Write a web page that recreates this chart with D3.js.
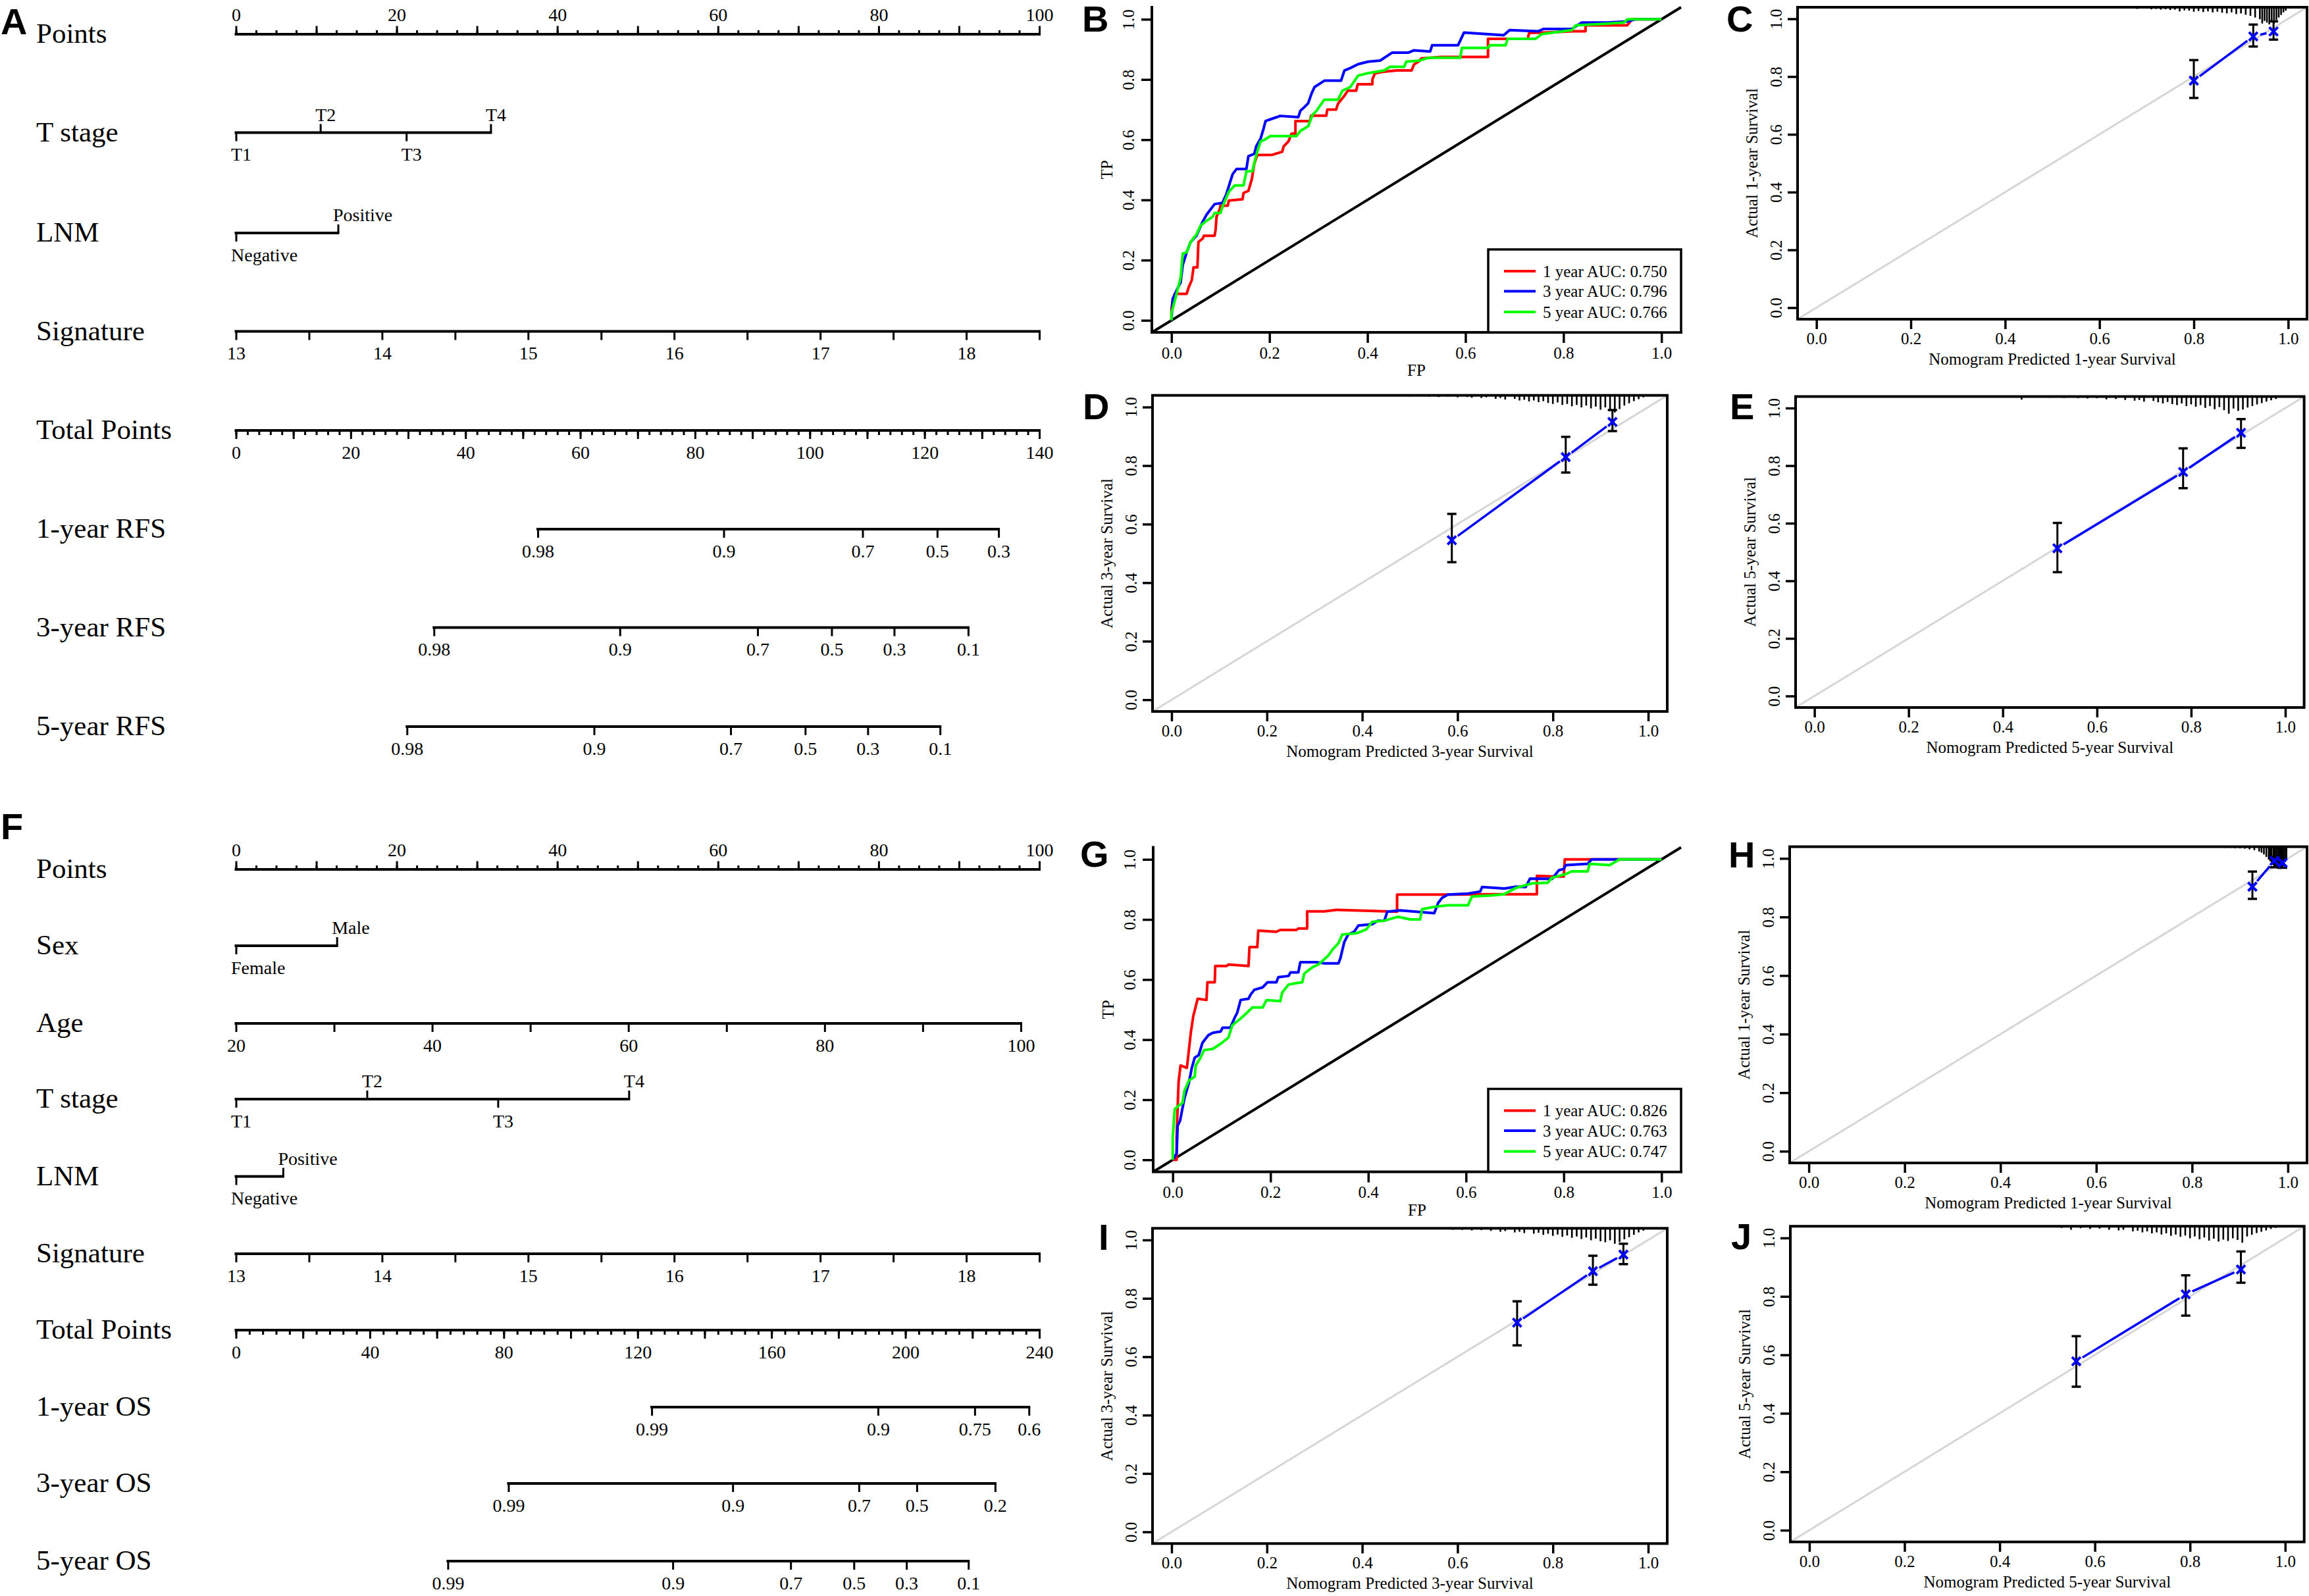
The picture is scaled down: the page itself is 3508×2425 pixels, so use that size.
<!DOCTYPE html>
<html><head><meta charset="utf-8">
<script src="https://cdn.jsdelivr.net/npm/d3@7"></script>
<style>
html,body{margin:0;padding:0;background:#fff;}
svg{display:block;}
</style></head><body>
<script>
// ---------------- DATA ----------------
// Nomogram A (RFS)
const pointsLabelVals = [0,20,40,60,80,100];
const tStageLabels = ["T1","T2","T3","T4"];
const tStageSides = ["down","up","down","up"];
const tStagePointsA = [0,10.5,21.2,31.7];
const lnmLabels = ["Negative","Positive"];
const lnmSides = ["down","up"];
const lnmPointsA = [0,12.7];
const signatureDomain = [13,18.5];
const signatureLabelVals = [13,14,15,16,17,18];
const totalMaxA = 140;
const rfs1Labels = ["0.98","0.9","0.7","0.5","0.3"];
const rfs1Points = [52.6,85.0,109.2,122.2,132.9];
const rfs3Labels = ["0.98","0.9","0.7","0.5","0.3","0.1"];
const rfs3Points = [34.5,66.9,90.9,103.8,114.7,127.6];
const rfs5Labels = ["0.98","0.9","0.7","0.5","0.3","0.1"];
const rfs5Points = [29.8,62.4,86.2,99.2,110.1,122.7];

// Nomogram F (OS)
const sexLabels = ["Female","Male"];
const sexSides = ["down","up"];
const sexPointsF = [0,12.55];
const ageDomain = [20,100];
const agePointsRange = [0,97.7];
const ageLabelVals = [20,40,60,80,100];
const tStagePointsF = [0,16.3,32.6,48.9];
const lnmPointsF = [0,5.85];
const totalMaxF = 240;
const os1Labels = ["0.99","0.9","0.75","0.6"];
const os1Points = [124.2,191.8,220.7,236.9];
const os3Labels = ["0.99","0.9","0.7","0.5","0.2"];
const os3Points = [81.4,148.4,186.1,203.4,226.8];
const os5Labels = ["0.99","0.9","0.7","0.5","0.3","0.1"];
const os5Points = [63.3,130.5,165.7,184.6,200.3,218.8];

// ROC B
const aucB = ["1 year AUC: 0.750","3 year AUC: 0.796","5 year AUC: 0.766"];
const rocB_1y = [[0,0],[0,0.042],[0.0065,0.088],[0.031,0.088],[0.035,0.109],[0.0415,0.134],[0.045,0.176],[0.053,0.176],[0.055,0.26],[0.064,0.272],[0.066,0.281],[0.088,0.281],[0.09,0.30],[0.092,0.344],[0.0985,0.369],[0.1,0.381],[0.115,0.381],[0.117,0.398],[0.145,0.402],[0.147,0.423],[0.157,0.43],[0.164,0.469],[0.169,0.52],[0.175,0.549],[0.206,0.55],[0.226,0.56],[0.229,0.578],[0.239,0.595],[0.245,0.62],[0.253,0.62],[0.253,0.662],[0.283,0.662],[0.285,0.68],[0.316,0.68],[0.318,0.70],[0.336,0.70],[0.34,0.72],[0.353,0.746],[0.36,0.763],[0.377,0.763],[0.38,0.784],[0.41,0.784],[0.41,0.80],[0.415,0.82],[0.43,0.825],[0.46,0.83],[0.49,0.83],[0.495,0.85],[0.505,0.86],[0.51,0.87],[0.55,0.875],[0.646,0.875],[0.646,0.935],[0.727,0.935],[0.73,0.955],[0.76,0.956],[0.82,0.96],[0.845,0.96],[0.845,0.98],[0.93,0.98],[0.935,0.99],[0.94,1.0],[1,1]];
const rocB_3y = [[0,0],[0.0024,0.071],[0.0106,0.10],[0.0187,0.126],[0.023,0.184],[0.031,0.226],[0.039,0.26],[0.051,0.281],[0.0635,0.327],[0.072,0.352],[0.08,0.369],[0.088,0.386],[0.104,0.39],[0.112,0.419],[0.12,0.461],[0.125,0.486],[0.133,0.503],[0.153,0.503],[0.157,0.545],[0.169,0.553],[0.173,0.578],[0.182,0.604],[0.188,0.637],[0.192,0.662],[0.206,0.67],[0.222,0.679],[0.259,0.675],[0.263,0.696],[0.271,0.708],[0.279,0.721],[0.286,0.754],[0.292,0.775],[0.312,0.796],[0.346,0.796],[0.353,0.83],[0.365,0.838],[0.381,0.851],[0.401,0.859],[0.426,0.863],[0.45,0.889],[0.483,0.889],[0.495,0.897],[0.528,0.893],[0.532,0.914],[0.585,0.914],[0.597,0.956],[0.678,0.947],[0.69,0.964],[0.748,0.96],[0.76,0.968],[0.817,0.968],[0.837,0.989],[0.89,0.989],[0.931,0.993],[0.947,1.0],[1,1]];
const rocB_5y = [[0,0],[0,0.025],[0.0065,0.063],[0.0187,0.142],[0.023,0.222],[0.031,0.226],[0.039,0.26],[0.051,0.285],[0.059,0.314],[0.072,0.331],[0.084,0.344],[0.088,0.356],[0.1,0.356],[0.104,0.377],[0.117,0.427],[0.129,0.448],[0.147,0.448],[0.153,0.495],[0.165,0.495],[0.173,0.549],[0.182,0.595],[0.19,0.6],[0.202,0.612],[0.23,0.612],[0.255,0.612],[0.263,0.629],[0.279,0.645],[0.288,0.683],[0.296,0.696],[0.312,0.733],[0.34,0.733],[0.349,0.763],[0.365,0.775],[0.381,0.813],[0.401,0.821],[0.434,0.83],[0.446,0.842],[0.475,0.842],[0.479,0.859],[0.507,0.863],[0.524,0.872],[0.589,0.872],[0.593,0.905],[0.646,0.905],[0.65,0.914],[0.682,0.914],[0.686,0.935],[0.743,0.935],[0.756,0.951],[0.817,0.964],[0.825,0.98],[0.882,0.985],[0.923,0.989],[0.931,1.0],[1,1]];

// ROC G
const aucG = ["1 year AUC: 0.826","3 year AUC: 0.763","5 year AUC: 0.747"];
const rocG_1y = [[0,0],[0.008,0],[0.008,0.08],[0.01,0.172],[0.012,0.26],[0.016,0.314],[0.029,0.306],[0.033,0.365],[0.037,0.423],[0.042,0.478],[0.051,0.536],[0.069,0.532],[0.071,0.591],[0.086,0.591],[0.087,0.645],[0.11,0.645],[0.114,0.65],[0.155,0.645],[0.157,0.708],[0.173,0.708],[0.175,0.763],[0.212,0.759],[0.22,0.765],[0.253,0.765],[0.257,0.77],[0.275,0.77],[0.275,0.827],[0.31,0.827],[0.335,0.832],[0.459,0.826],[0.459,0.883],[0.571,0.883],[0.653,0.884],[0.745,0.884],[0.745,0.945],[0.78,0.943],[0.8,0.943],[0.802,1.0],[1,1]];
const rocG_3y = [[0,0],[0.008,0.021],[0.01,0.113],[0.015,0.13],[0.02,0.172],[0.024,0.205],[0.033,0.256],[0.039,0.306],[0.045,0.34],[0.053,0.348],[0.061,0.39],[0.073,0.415],[0.082,0.423],[0.098,0.427],[0.102,0.44],[0.118,0.44],[0.127,0.474],[0.132,0.49],[0.139,0.532],[0.155,0.536],[0.159,0.549],[0.167,0.566],[0.184,0.574],[0.194,0.591],[0.212,0.591],[0.216,0.608],[0.237,0.612],[0.241,0.624],[0.257,0.624],[0.261,0.658],[0.294,0.658],[0.31,0.654],[0.339,0.654],[0.343,0.671],[0.351,0.725],[0.359,0.75],[0.371,0.759],[0.38,0.78],[0.408,0.784],[0.42,0.796],[0.433,0.796],[0.439,0.826],[0.465,0.83],[0.535,0.821],[0.543,0.855],[0.551,0.872],[0.563,0.883],[0.604,0.886],[0.629,0.893],[0.633,0.908],[0.678,0.903],[0.702,0.909],[0.722,0.908],[0.731,0.936],[0.776,0.935],[0.79,0.964],[0.8,0.968],[0.804,0.981],[0.849,0.985],[0.857,1.0],[1,1]];
const rocG_5y = [[0,0],[0,0.075],[0.004,0.168],[0.012,0.18],[0.02,0.189],[0.024,0.23],[0.033,0.264],[0.045,0.277],[0.047,0.314],[0.057,0.34],[0.064,0.365],[0.082,0.369],[0.098,0.386],[0.114,0.407],[0.122,0.448],[0.135,0.465],[0.147,0.482],[0.163,0.507],[0.184,0.507],[0.192,0.532],[0.22,0.528],[0.224,0.557],[0.237,0.583],[0.249,0.587],[0.265,0.591],[0.269,0.62],[0.286,0.641],[0.298,0.65],[0.318,0.679],[0.327,0.7],[0.339,0.721],[0.347,0.75],[0.376,0.754],[0.396,0.767],[0.408,0.792],[0.433,0.796],[0.461,0.809],[0.486,0.8],[0.506,0.8],[0.51,0.834],[0.535,0.842],[0.563,0.847],[0.604,0.847],[0.612,0.876],[0.653,0.88],[0.678,0.884],[0.702,0.905],[0.735,0.92],[0.767,0.922],[0.776,0.939],[0.804,0.951],[0.816,0.96],[0.849,0.96],[0.853,0.985],[0.894,0.981],[0.914,1.0],[1,1]];

// Calibration panels: predicted, observed, CI low, CI high
const calC_pred = [0.800,0.926,0.969], calC_obs = [0.786,0.939,0.956], calC_lo = [0.726,0.904,0.928], calC_hi = [0.857,0.980,0.991];
const calD_pred = [0.588,0.827,0.925], calD_obs = [0.545,0.829,0.949], calD_lo = [0.470,0.776,0.918], calD_hi = [0.635,0.898,0.990];
const calE_pred = [0.516,0.783,0.906], calE_obs = [0.513,0.778,0.914], calE_lo = [0.430,0.722,0.862], calE_hi = [0.601,0.860,0.962];
const calH_pred = [0.926,0.972,0.989], calH_obs = [0.9035,0.992,0.985], calH_lo = [0.862,0.970,0.968], calH_hi = [0.955,1.005,1.000];
const calI_pred = [0.725,0.884,0.948], calI_obs = [0.717,0.893,0.950], calI_lo = [0.639,0.847,0.917], calI_hi = [0.790,0.946,0.987];
const calJ_pred = [0.561,0.791,0.907], calJ_obs = [0.578,0.807,0.892], calJ_lo = [0.491,0.734,0.847], calJ_hi = [0.664,0.872,0.954];

// Distribution of predictions (rug at top): [predicted, relative frequency 0-10]
const rugC = [[0.41,0.3],[0.47,0.3],[0.52,0.5],[0.56,0.5],[0.58,0.6],[0.60,0.5],[0.62,0.8],[0.64,0.6],[0.66,0.8],[0.68,1.0],[0.70,0.8],[0.71,1.2],[0.72,1.0],[0.73,1.4],[0.74,1.2],[0.75,1.6],[0.76,1.4],[0.77,2.4],[0.78,1.8],[0.79,2.0],[0.80,2.6],[0.81,2.2],[0.82,2.8],[0.83,2.4],[0.84,3.0],[0.85,2.6],[0.86,3.2],[0.87,3.6],[0.88,3.0],[0.89,4.0],[0.90,3.6],[0.91,4.4],[0.92,5.0],[0.93,6.0],[0.94,7.0],[0.945,9.5],[0.95,8.0],[0.955,9.0],[0.96,10],[0.965,8.5],[0.97,9.5],[0.975,7.5],[0.98,6.0],[0.985,4.5],[0.99,3.0],[0.995,2.0]];
const rugD = [[0.24,0.3],[0.30,0.3],[0.36,0.4],[0.40,0.4],[0.44,0.5],[0.47,0.5],[0.50,0.7],[0.52,0.6],[0.54,0.8],[0.56,1.0],[0.58,0.8],[0.60,1.2],[0.62,1.0],[0.63,1.4],[0.65,1.6],[0.66,1.2],[0.68,2.0],[0.69,1.6],[0.70,2.4],[0.72,2.0],[0.73,3.0],[0.74,2.6],[0.75,3.6],[0.76,3.0],[0.77,4.0],[0.78,3.4],[0.79,4.4],[0.80,5.0],[0.81,4.2],[0.82,5.6],[0.83,5.0],[0.84,6.4],[0.85,5.6],[0.86,7.0],[0.87,6.0],[0.88,7.6],[0.89,6.6],[0.90,8.4],[0.91,7.0],[0.92,9.0],[0.93,10],[0.94,8.0],[0.95,6.0],[0.96,4.6],[0.97,3.4],[0.98,2.2],[0.99,1.2]];
const rugE = [[0.17,0.3],[0.25,0.3],[0.30,0.4],[0.35,0.4],[0.40,0.5],[0.44,1.8],[0.46,0.6],[0.50,0.7],[0.53,0.8],[0.56,1.0],[0.58,1.2],[0.60,1.0],[0.62,1.6],[0.64,1.4],[0.66,2.0],[0.68,2.4],[0.69,2.0],[0.70,3.0],[0.72,2.6],[0.73,3.4],[0.74,4.0],[0.75,3.2],[0.76,4.4],[0.77,5.0],[0.78,4.0],[0.79,5.6],[0.80,4.6],[0.81,6.0],[0.82,5.0],[0.83,6.6],[0.84,5.6],[0.85,7.4],[0.86,6.2],[0.87,8.0],[0.88,10],[0.89,7.0],[0.90,8.4],[0.91,7.6],[0.92,6.4],[0.93,5.6],[0.94,4.6],[0.95,3.8],[0.96,3.0],[0.97,2.2],[0.98,1.4]];
const rugH = [[0.66,0.2],[0.70,0.3],[0.74,0.3],[0.77,0.4],[0.80,0.4],[0.83,0.5],[0.85,0.6],[0.87,0.7],[0.88,0.8],[0.89,1.0],[0.90,1.0],[0.91,1.2],[0.92,1.5],[0.93,2.0],[0.94,2.8],[0.945,3.5],[0.95,4.5],[0.955,6.0],[0.96,7.5],[0.963,8.5],[0.966,9.5],[0.97,11],[0.973,12],[0.976,12.5],[0.979,13],[0.982,12.5],[0.985,13],[0.988,12],[0.991,11],[0.994,9],[0.997,7]];
const rugI = [[0.16,0.2],[0.22,0.3],[0.28,0.3],[0.33,0.3],[0.38,0.4],[0.42,0.4],[0.46,0.5],[0.50,0.5],[0.53,0.6],[0.56,0.7],[0.59,0.8],[0.61,0.9],[0.63,1.2],[0.65,1.0],[0.67,1.5],[0.69,2.0],[0.70,1.6],[0.72,2.4],[0.73,2.0],[0.74,2.8],[0.76,3.2],[0.77,2.6],[0.78,3.8],[0.79,3.2],[0.80,4.4],[0.81,3.6],[0.82,5.0],[0.83,4.2],[0.84,5.6],[0.85,4.8],[0.86,6.2],[0.87,5.4],[0.88,7.0],[0.89,6.0],[0.90,7.6],[0.91,8.2],[0.92,7.0],[0.93,9.0],[0.94,8.0],[0.95,6.4],[0.96,5.2],[0.97,3.8],[0.98,2.4],[0.99,1.4]];
const rugJ = [[0.03,0.2],[0.10,0.3],[0.18,0.3],[0.25,0.3],[0.32,0.4],[0.38,0.4],[0.43,0.5],[0.47,0.6],[0.50,0.6],[0.53,1.0],[0.55,2.0],[0.57,1.2],[0.59,1.6],[0.61,1.4],[0.63,2.0],[0.65,2.4],[0.66,2.0],[0.68,3.0],[0.69,2.6],[0.70,3.6],[0.71,3.0],[0.72,4.2],[0.73,3.6],[0.74,4.8],[0.75,4.2],[0.76,5.6],[0.77,4.8],[0.78,6.2],[0.79,5.4],[0.80,7.0],[0.81,6.0],[0.82,7.6],[0.83,6.6],[0.84,8.4],[0.85,7.2],[0.86,9.0],[0.87,7.8],[0.88,8.6],[0.89,7.0],[0.90,8.0],[0.91,9.6],[0.92,6.0],[0.93,5.0],[0.94,4.0],[0.95,3.2],[0.96,2.4],[0.97,1.6],[0.98,1.0]];

const unitTicks = [0,0.2,0.4,0.6,0.8,1.0];

// ---------------- DRAWING ----------------
const SERIF = '"Liberation Serif","Times New Roman",serif';
const SANS = '"Liberation Sans",Arial,sans-serif';
const svg = d3.select('body').append('svg').attr('width',3508).attr('height',2425);
svg.append('rect').attr('width',3508).attr('height',2425).attr('fill','#fff');

const NX0 = 358.5, NX1 = 1579;
const ptsX = d3.scaleLinear().domain([0,100]).range([NX0,NX1]);

function styleAxis(sel, fs){
  sel.select('.domain').remove();
  sel.selectAll('.tick line').attr('stroke','#000').attr('stroke-width',3);
  sel.selectAll('.tick text').attr('font-family',SERIF).attr('font-size',fs).attr('fill','#000');
}
function rowLine(g,y,x0,x1){
  g.append('line').attr('x1',x0).attr('x2',x1).attr('y1',y).attr('y2',y)
   .attr('stroke','#000').attr('stroke-width',4).attr('stroke-linecap','square');
}
function rowLabel(g,y,t){
  g.append('text').attr('x',55).attr('y',y+13).attr('font-family',SERIF).attr('font-size',43).attr('fill','#000').text(t);
}
function pointsRow(g,y){
  rowLabel(g,y,'Points');
  rowLine(g,y,ptsX(0),ptsX(100));
  g.append('g').attr('transform',`translate(0,${y})`)
   .call(d3.axisTop(ptsX).tickValues(d3.range(0,100.001,2.5)).tickSize(6).tickFormat(''))
   .call(styleAxis,28);
  g.append('g').attr('transform',`translate(0,${y})`)
   .call(d3.axisTop(ptsX).tickValues(d3.range(0,100.001,10)).tickSize(12.5).tickPadding(7.5)
     .tickFormat(d=> pointsLabelVals.includes(d)? d : ''))
   .call(styleAxis,28);
}
function catRow(g,y,name,labels,pts,sides){
  rowLabel(g,y,name);
  rowLine(g,y,ptsX(d3.min(pts)),ptsX(d3.max(pts)));
  const items = pts.map((p,i)=>({p:p,l:labels[i],s:sides[i]}));
  const up = items.filter(d=>d.s==='up'), dn = items.filter(d=>d.s==='down');
  g.append('g').attr('transform',`translate(0,${y})`)
   .call(d3.axisTop(ptsX).tickValues(up.map(d=>d.p)).tickSize(13).tickPadding(5).tickFormat((d,i)=>up[i].l))
   .call(styleAxis,28)
   .selectAll('.tick text').attr('text-anchor','start').attr('x',-8);
  g.append('g').attr('transform',`translate(0,${y})`)
   .call(d3.axisBottom(ptsX).tickValues(dn.map(d=>d.p)).tickSize(13).tickPadding(10).tickFormat((d,i)=>dn[i].l))
   .call(styleAxis,28)
   .selectAll('.tick text').attr('text-anchor','start').attr('x',-8);
}
function contRow(g,y,name,scale,tickVals,labelVals){
  rowLabel(g,y,name);
  const d = scale.domain();
  rowLine(g,y,scale(d[0]),scale(d[1]));
  g.append('g').attr('transform',`translate(0,${y})`)
   .call(d3.axisBottom(scale).tickValues(tickVals).tickSize(13).tickPadding(10)
     .tickFormat(v=> labelVals.some(l=>Math.abs(l-v)<1e-9)? v : ''))
   .call(styleAxis,28);
}
function totalRow(g,y,scale,minorStep,majorStep,labelStep){
  rowLabel(g,y,'Total Points');
  const d = scale.domain();
  rowLine(g,y,scale(d[0]),scale(d[1]));
  g.append('g').attr('transform',`translate(0,${y})`)
   .call(d3.axisBottom(scale).tickValues(d3.range(d[0],d[1]+0.001,minorStep)).tickSize(7).tickFormat(''))
   .call(styleAxis,28);
  g.append('g').attr('transform',`translate(0,${y})`)
   .call(d3.axisBottom(scale).tickValues(d3.range(d[0],d[1]+0.001,majorStep)).tickSize(13).tickPadding(10)
     .tickFormat(v=> v%labelStep===0? v : ''))
   .call(styleAxis,28);
}
function probRow(g,y,name,scale,pts,labels){
  rowLabel(g,y,name);
  rowLine(g,y,scale(d3.min(pts)),scale(d3.max(pts)));
  g.append('g').attr('transform',`translate(0,${y})`)
   .call(d3.axisBottom(scale).tickValues(pts).tickSize(13).tickPadding(10).tickFormat((d,i)=>labels[i]))
   .call(styleAxis,28);
}

// Panel A
const gA = svg.append('g');
const sigScale = d3.scaleLinear().domain(signatureDomain).range([ptsX(0),ptsX(100)]);
const sigTicks = d3.range(signatureDomain[0],signatureDomain[1]+0.001,0.5);
const totXA = d3.scaleLinear().domain([0,totalMaxA]).range([NX0,NX1]);
pointsRow(gA,52);
catRow(gA,201.5,'T stage',tStageLabels,tStagePointsA,tStageSides);
catRow(gA,354,'LNM',lnmLabels,lnmPointsA,lnmSides);
contRow(gA,503.6,'Signature',sigScale,sigTicks,signatureLabelVals);
totalRow(gA,654,totXA,2,10,20);
probRow(gA,804,'1-year RFS',totXA,rfs1Points,rfs1Labels);
probRow(gA,953.6,'3-year RFS',totXA,rfs3Points,rfs3Labels);
probRow(gA,1104,'5-year RFS',totXA,rfs5Points,rfs5Labels);

// Panel F
const gF = svg.append('g');
const ageScale = d3.scaleLinear().domain(ageDomain).range([ptsX(agePointsRange[0]),ptsX(agePointsRange[1])]);
const ageTicks = d3.range(ageDomain[0],ageDomain[1]+0.001,10);
const totXF = d3.scaleLinear().domain([0,totalMaxF]).range([NX0,NX1]);
pointsRow(gF,1321);
catRow(gF,1437,'Sex',sexLabels,sexPointsF,sexSides);
contRow(gF,1555,'Age',ageScale,ageTicks,ageLabelVals);
catRow(gF,1670,'T stage',tStageLabels,tStagePointsF,tStageSides);
catRow(gF,1787.5,'LNM',lnmLabels,lnmPointsF,lnmSides);
contRow(gF,1905,'Signature',sigScale,sigTicks,signatureLabelVals);
totalRow(gF,2021,totXF,4,20,40);
probRow(gF,2138,'1-year OS',totXF,os1Points,os1Labels);
probRow(gF,2254,'3-year OS',totXF,os3Points,os3Labels);
probRow(gF,2372,'5-year OS',totXF,os5Points,os5Labels);

// ---- shared axes helpers for small plots
function smallAxes(g,box,x,y,opt){
  const xa = g.append('g').attr('transform',`translate(0,${box.b})`)
    .call(d3.axisBottom(x).tickValues(unitTicks).tickFormat(d3.format('.1f')).tickSize(opt.tick).tickPadding(opt.xpad));
  xa.select('.domain').remove();
  xa.selectAll('.tick line').attr('stroke','#000').attr('stroke-width',3.5);
  xa.selectAll('.tick text').attr('font-family',SERIF).attr('font-size',25).attr('fill','#000');
  const ya = g.append('g').attr('transform',`translate(${box.l},0)`)
    .call(d3.axisLeft(y).tickValues(unitTicks).tickFormat(d3.format('.1f')).tickSize(opt.tick));
  ya.select('.domain').remove();
  ya.selectAll('.tick line').attr('stroke','#000').attr('stroke-width',3.5);
  ya.selectAll('.tick text').attr('font-family',SERIF).attr('font-size',25).attr('fill','#000')
    .attr('x',null).attr('dy',null).attr('text-anchor','middle')
    .attr('transform',`translate(${-opt.ylab},0) rotate(-90)`);
  g.append('text').attr('x',(box.l+box.r)/2).attr('y',box.b+opt.xtitle).attr('text-anchor','middle')
    .attr('font-family',SERIF).attr('font-size',25).attr('fill','#000').text(opt.xt);
  g.append('text').attr('transform',`translate(${box.l-opt.ytitle},${(box.t+box.b)/2}) rotate(-90)`)
    .attr('text-anchor','middle').attr('font-family',SERIF).attr('font-size',25).attr('fill','#000').text(opt.yt);
}

// ---- ROC
function rocPanel(box,curves,labels){
  const x = d3.scaleLinear().domain([-0.04,1.04]).range([box.l,box.r]);
  const y = d3.scaleLinear().domain([-0.04,1.04]).range([box.b,box.t]);
  const g = svg.append('g');
  g.append('line').attr('x1',x(-0.04)).attr('y1',y(-0.04)).attr('x2',x(1.04)).attr('y2',y(1.04))
    .attr('stroke','#000').attr('stroke-width',4);
  const colors = ['#FF0000','#0000FF','#00FF00'];
  const line = d3.line().x(d=>x(d[0])).y(d=>y(d[1]));
  curves.forEach((c,i)=>{
    g.append('path').datum(c).attr('d',line).attr('fill','none').attr('stroke',colors[i])
     .attr('stroke-width',4).attr('stroke-linejoin','round');
  });
  // L-shaped box
  g.append('path').attr('d',`M${box.l},${box.t}V${box.b}H${box.r}`).attr('fill','none')
    .attr('stroke','#000').attr('stroke-width',4).attr('stroke-linecap','square');
  smallAxes(g,box,x,y,{tick:16,xpad:6,ylab:27,xtitle:66,ytitle:60,xt:'FP',yt:'TP'});
  // legend
  const lx = box.r-293, ly = box.b-126;
  g.append('rect').attr('x',lx).attr('y',ly).attr('width',box.r-lx).attr('height',box.b-ly)
    .attr('fill','#fff').attr('stroke','#000').attr('stroke-width',3.5);
  const offs = [33,63.5,95];
  labels.forEach((t,i)=>{
    g.append('line').attr('x1',lx+24).attr('x2',lx+72).attr('y1',ly+offs[i]).attr('y2',ly+offs[i])
      .attr('stroke',colors[i]).attr('stroke-width',4);
    g.append('text').attr('x',lx+83).attr('y',ly+offs[i]+8.5).attr('font-family',SERIF).attr('font-size',25)
      .attr('fill','#000').text(t);
  });
}

// ---- Calibration
const rugLen = d3.scaleLinear().domain([0,10]).range([0,26]);
let clipN = 0;
function calPanel(box,pred,obs,lo,hi,rug,yr){
  const x = d3.scaleLinear().domain([-0.04,1.04]).range([box.l,box.r]);
  const y = d3.scaleLinear().domain([-0.04,1.04]).range([box.b,box.t]);
  const g = svg.append('g');
  const cid = 'clip'+(clipN++);
  svg.append('clipPath').attr('id',cid).append('rect').attr('x',box.l).attr('y',box.t)
    .attr('width',box.r-box.l).attr('height',box.b-box.t);
  const inner = g.append('g').attr('clip-path',`url(#${cid})`);
  inner.append('line').attr('x1',x(-0.04)).attr('y1',y(-0.04)).attr('x2',x(1.04)).attr('y2',y(1.04))
    .attr('stroke','#d6d6d6').attr('stroke-width',3);
  inner.selectAll('line.rug').data(rug).join('line').attr('class','rug')
    .attr('x1',d=>x(d[0])).attr('x2',d=>x(d[0])).attr('y1',box.t).attr('y2',d=>box.t+rugLen(d[1]))
    .attr('stroke','#000').attr('stroke-width',2.6);
  const pts = pred.map((p,i)=>({x:x(p),y:y(obs[i]),lo:y(lo[i]),hi:y(hi[i])}));
  const gap = 11;
  for(let i=0;i<pts.length-1;i++){
    const a=pts[i], b=pts[i+1];
    const dx=b.x-a.x, dy=b.y-a.y, L=Math.hypot(dx,dy);
    if(L>2*gap+2){
      const ux=dx/L, uy=dy/L;
      inner.append('line').attr('x1',a.x+ux*gap).attr('y1',a.y+uy*gap).attr('x2',b.x-ux*gap).attr('y2',b.y-uy*gap)
        .attr('stroke','#0000FF').attr('stroke-width',3.5);
    }
  }
  pts.forEach(p=>{
    inner.append('line').attr('x1',p.x).attr('x2',p.x).attr('y1',p.lo).attr('y2',p.hi).attr('stroke','#000').attr('stroke-width',3);
    [p.lo,p.hi].forEach(yy=> inner.append('line').attr('x1',p.x-7).attr('x2',p.x+7).attr('y1',yy).attr('y2',yy)
      .attr('stroke','#000').attr('stroke-width',3.5));
  });
  pts.forEach(p=>{
    const s=6.5;
    inner.append('path').attr('d',`M${p.x-s},${p.y-s}L${p.x+s},${p.y+s}M${p.x-s},${p.y+s}L${p.x+s},${p.y-s}`)
      .attr('stroke','#0000FF').attr('stroke-width',4).attr('fill','none');
  });
  g.append('rect').attr('x',box.l).attr('y',box.t).attr('width',box.r-box.l).attr('height',box.b-box.t)
    .attr('fill','none').attr('stroke','#000').attr('stroke-width',4);
  smallAxes(g,box,x,y,{tick:15,xpad:5,ylab:24,xtitle:69,ytitle:61,
    xt:`Nomogram Predicted ${yr}-year Survival`, yt:`Actual ${yr}-year Survival`});
}

rocPanel({l:1750,r:2554,t:11,b:505},[rocB_1y,rocB_3y,rocB_5y],aucB);
rocPanel({l:1752,r:2554,t:1287.5,b:1780.5},[rocG_1y,rocG_3y,rocG_5y],aucG);
calPanel({l:2731,r:3505,t:11,b:485},calC_pred,calC_obs,calC_lo,calC_hi,rugC,1);
calPanel({l:1751,r:2533,t:600.7,b:1081},calD_pred,calD_obs,calD_lo,calD_hi,rugD,3);
calPanel({l:2728,r:3500.6,t:602.5,b:1075},calE_pred,calE_obs,calE_lo,calE_hi,rugE,5);
calPanel({l:2719,r:3505,t:1286.5,b:1767},calH_pred,calH_obs,calH_lo,calH_hi,rugH,1);
calPanel({l:1751,r:2533,t:1866.3,b:2345.3},calI_pred,calI_obs,calI_lo,calI_hi,rugI,3);
calPanel({l:2720,r:3500.7,t:1863.2,b:2342.8},calJ_pred,calJ_obs,calJ_lo,calJ_hi,rugJ,5);

// Panel letters
const panelLetters = [["A",1,52],["B",1644,48],["C",2623,48],["D",1645,637],["E",2628,637],
  ["F",1,1275],["G",1641,1317],["H",2626,1318],["I",1669,1899],["J",2630,1898]];
svg.selectAll('text.plabel').data(panelLetters).join('text').attr('class','plabel')
  .attr('x',d=>d[1]).attr('y',d=>d[2]).attr('font-family',SANS).attr('font-weight','bold')
  .attr('font-size',56).attr('fill','#000').text(d=>d[0]);
</script>
</body></html>
